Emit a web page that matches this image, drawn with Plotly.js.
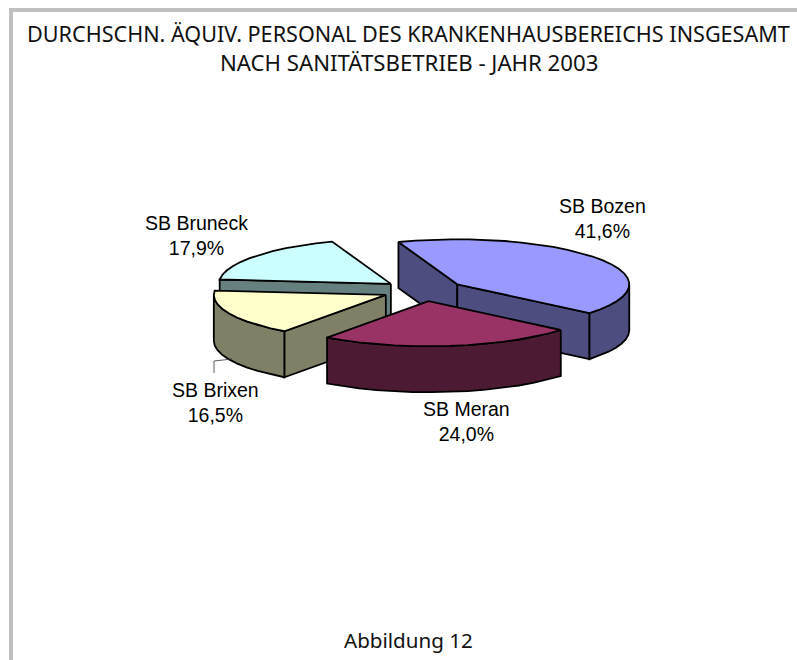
<!DOCTYPE html>
<html>
<head>
<meta charset="utf-8">
<script src="https://cdn.plot.ly/plotly-3.0.1.min.js"></script>
<style>html,body{margin:0;padding:0;background:#fff}#chart{width:797px;height:660px}</style>
</head>
<body>
<div id="chart"></div>
<script>
// Data
var categories = ['SB Bozen', 'SB Meran', 'SB Brixen', 'SB Bruneck'];
var shares = [41.6, 24.0, 16.5, 17.9];
var titleLine1 = 'DURCHSCHN. ÄQUIV. PERSONAL DES KRANKENHAUSBEREICHS INSGESAMT';
var titleLine2 = 'NACH SANITÄTSBETRIEB - JAHR 2003';
var footer = 'Abbildung 12';

// Styling
var topColors = ['#9999FF', '#993366', '#FFFFCC', '#CCFFFF'];
var sideColors = ['#4D4D80', '#4D1A33', '#808066', '#668080'];
var drawOrder = [3, 0, 2, 1];
var labelPos = [[602, 218], [466, 421], [215, 402], [196, 235]];

// Projection of the exploded 3-D pie
var cx = 423.5, cy = 290.5, rx = 172, ry = 45, depth = 46, pull = 0.24, firstAngle = 110;
var rad = Math.PI / 180;

function pt(a, mid, dz) {
  return [cx + pull * rx * Math.cos(mid * rad) + rx * Math.cos(a * rad),
          cy - pull * ry * Math.sin(mid * rad) - ry * Math.sin(a * rad) + (dz || 0)];
}
function apex(mid, dz) {
  return [cx + pull * rx * Math.cos(mid * rad), cy - pull * ry * Math.sin(mid * rad) + (dz || 0)];
}
function arc(a1, a2, mid, dz) {
  var out = [], n = Math.max(1, Math.round(Math.abs(a1 - a2) / 6));
  for (var i = 0; i <= n; i++) out.push(pt(a1 + (a2 - a1) * i / n, mid, dz));
  return out;
}
function poly(points, fill, name) {
  points = points.concat([points[0]]);
  return {
    type: 'scatter', mode: 'lines', name: name, showlegend: false, hoverinfo: 'skip',
    x: points.map(function (p) { return p[0]; }),
    y: points.map(function (p) { return p[1]; }),
    fill: 'toself', fillcolor: fill,
    line: { color: '#000', width: 1.8, shape: 'linear' }
  };
}

var total = shares.reduce(function (s, v) { return s + v; }, 0);
var wedges = [], acc = firstAngle;
shares.forEach(function (v, i) {
  var a1 = acc, a2 = acc - v / total * 360;
  wedges[i] = { a1: a1, a2: a2, mid: (a1 + a2) / 2 };
  acc = a2;
});

var traces = [];
drawOrder.forEach(function (i) {
  var w = wedges[i], name = categories[i];
  // cut face at the start of the wedge
  if (Math.cos(w.a1 * rad) < 0) {
    traces.push(poly([apex(w.mid), pt(w.a1, w.mid), pt(w.a1, w.mid, depth), apex(w.mid, depth)], sideColors[i], name));
  }
  // cut face at the end of the wedge
  if (Math.cos(w.a2 * rad) > 0) {
    traces.push(poly([apex(w.mid), pt(w.a2, w.mid), pt(w.a2, w.mid, depth), apex(w.mid, depth)], sideColors[i], name));
  }
  // rim, only the part facing the viewer
  var s = Math.min(w.a1, 0), e = Math.max(w.a2, -180);
  if (s > e) {
    traces.push(poly(arc(s, e, w.mid).concat(arc(e, s, w.mid, depth)), sideColors[i], name));
  }
  // top face
  traces.push(poly([apex(w.mid)].concat(arc(w.a1, w.a2, w.mid)), topColors[i], name));
});

var labelFont = { family: 'Liberation Sans, Arial, sans-serif', size: 19.5, color: '#000' };
var annotations = categories.map(function (c, i) {
  return {
    x: labelPos[i][0], y: labelPos[i][1], xref: 'x', yref: 'y', showarrow: false,
    text: c + '<br>' + shares[i].toFixed(1).replace('.', ',') + '%',
    font: labelFont, align: 'center', xanchor: 'center', yanchor: 'middle'
  };
});
var titleFamily = 'Noto Sans, sans-serif';
annotations.push({ x: 408, y: 33, xref: 'x', yref: 'y', showarrow: false, text: titleLine1, font: { family: titleFamily, size: 21.6, color: '#111' }, xanchor: 'center', yanchor: 'middle' });
annotations.push({ x: 409, y: 62, xref: 'x', yref: 'y', showarrow: false, text: titleLine2, font: { family: titleFamily, size: 22.2, color: '#111' }, xanchor: 'center', yanchor: 'middle' });
annotations.push({ x: 408, y: 640, xref: 'x', yref: 'y', showarrow: false, text: footer, font: { family: titleFamily, size: 20.6, color: '#111' }, xanchor: 'center', yanchor: 'middle' });

var frame = { color: '#C0C0C0' };
var layout = {
  width: 797, height: 660,
  margin: { l: 0, r: 0, t: 0, b: 0 },
  paper_bgcolor: '#fff', plot_bgcolor: '#fff',
  xaxis: { range: [0, 797], visible: false, fixedrange: true },
  yaxis: { range: [660, 0], visible: false, fixedrange: true },
  showlegend: false,
  annotations: annotations,
  shapes: [
    { type: 'rect', xref: 'x', yref: 'y', x0: 9, x1: 797, y0: 8, y1: 12, fillcolor: frame.color, line: { width: 0 }, layer: 'below' },
    { type: 'rect', xref: 'x', yref: 'y', x0: 9, x1: 13, y0: 8, y1: 660, fillcolor: frame.color, line: { width: 0 }, layer: 'below' },
    { type: 'path', xref: 'x', yref: 'y', path: 'M232 359 L214 361 L214 373', line: { color: '#333', width: 0.8 } }
  ]
};
Plotly.newPlot('chart', traces, layout, { displayModeBar: false, staticPlot: true });
</script>
</body>
</html>
